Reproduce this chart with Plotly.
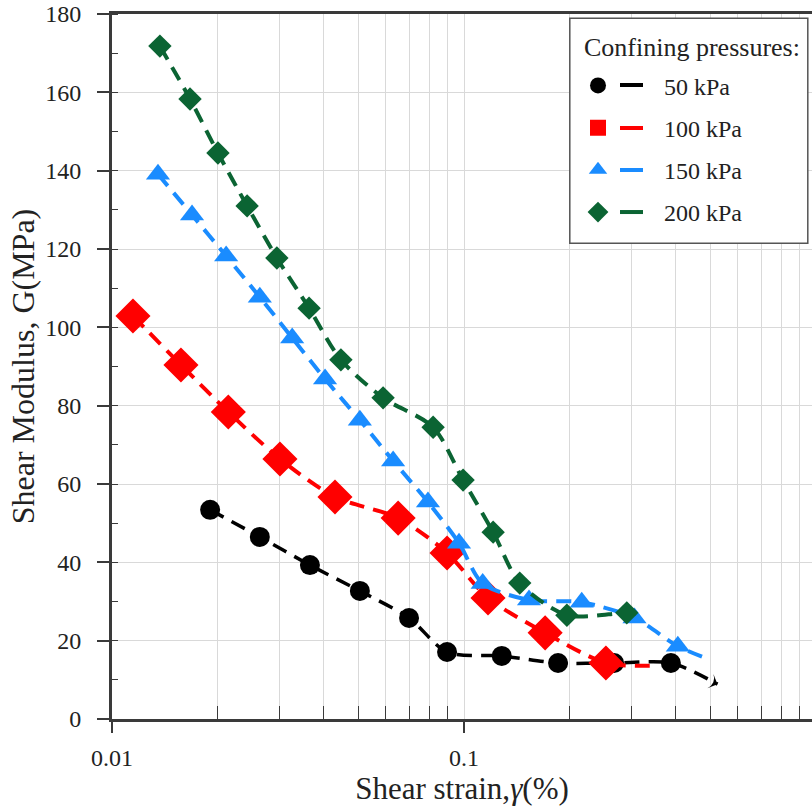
import plotly.graph_objects as go

# ---- data ----
strain_50 = [0.0190, 0.0263, 0.0365, 0.0506, 0.0698, 0.0895, 0.128, 0.185, 0.267, 0.387, 0.525]
G_50 = [53.4, 46.5, 39.3, 32.7, 25.8, 17.1, 16.1, 14.3, 14.3, 14.3, 8.9]

strain_100 = [0.01147, 0.0157, 0.0214, 0.0300, 0.0430, 0.0650, 0.0895, 0.117, 0.170, 0.253, 0.337]
G_100 = [102.9, 90.4, 78.4, 66.4, 56.7, 51.3, 42.4, 30.9, 22.0, 14.3, 13.6]

strain_150 = [0.01351, 0.01688, 0.0211, 0.0263, 0.0325, 0.0403, 0.0506, 0.0629, 0.0790, 0.0968,
              0.113, 0.153, 0.216, 0.305, 0.405, 0.500]
G_150 = [139.1, 128.7, 118.2, 107.7, 97.3, 86.8, 76.3, 65.9, 55.4, 44.9,
         34.6, 30.4, 29.8, 25.8, 18.6, 15.1]

strain_200 = [0.01368, 0.01666, 0.0200, 0.0242, 0.0294, 0.0363, 0.0447, 0.0589, 0.0817, 0.0994,
              0.121, 0.144, 0.196, 0.290, 0.320]
G_200 = [171.8, 158.3, 144.5, 131.0, 117.7, 104.9, 91.7, 82.0, 74.5, 61.0,
         47.7, 34.7, 26.5, 27.1, 26.6]

series_names = ["50 kPa", "100 kPa", "150 kPa", "200 kPa"]
legend_title = "Confining pressures:"
x_title = "Shear strain,<i>γ</i>(%)"
y_title = "Shear Modulus, G(MPa)"
x_tickvals = [0.01, 0.1, 1]
x_ticktext = ["0.01", "0.1", "1"]
x_minor = [0.02, 0.03, 0.04, 0.05, 0.06, 0.07, 0.08, 0.09,
           0.2, 0.3, 0.4, 0.5, 0.6, 0.7, 0.8, 0.9]

FONT = "Liberation Serif, Times New Roman, serif"
TXT = "#222222"
AX = "#3a3a3a"
colors = ["#000000", "#ff0000", "#1a8cff", "#0b6433"]
plot_symbols = ["circle", "diamond", "triangle-up", "diamond"]
legend_symbols = ["circle", "square", "triangle-up", "diamond"]
msizes = [20, 27, 21, 18]
end_sizes = [11, 0, 0, 0]
end_symbols = ["arrow-wide", "diamond", "triangle-up", "diamond"]
end_angles = [113, 0, 0, 0]
lwidths = [3.5, 4, 4, 4]

fig = go.Figure()
xs = [strain_50, strain_100, strain_150, strain_200]
ys = [G_50, G_100, G_150, G_200]
for i in range(4):
    n = len(xs[i])
    sizes = [msizes[i]] * (n - 1) + [end_sizes[i]]
    symbols = [plot_symbols[i]] * (n - 1) + [end_symbols[i]]
    angles = [0] * (n - 1) + [end_angles[i]]
    fig.add_trace(go.Scatter(
        x=xs[i], y=ys[i], mode="lines+markers", showlegend=False,
        line=dict(color=colors[i], width=lwidths[i], dash="15px,9px", shape="spline", smoothing=0.8),
        marker=dict(symbol=symbols, size=sizes, angle=angles, color=colors[i],
                    opacity=1, line=dict(width=0)),
    ))

# legend-only entries (marker part of the key)
for i in range(4):
    fig.add_trace(go.Scatter(
        x=[None], y=[None], mode="markers", name=series_names[i],
        legendgroup=series_names[i],
        marker=dict(symbol=legend_symbols[i], size=21, color=colors[i], opacity=1),
    ))

axis_common = dict(
    showline=True, linecolor=AX, linewidth=3,
    gridcolor="#d9d9d9", gridwidth=1, zeroline=False, automargin=False,
    tickfont=dict(family=FONT, size=24, color=TXT),
    ticklabeloverflow="allow",
)

fig.update_xaxes(
    type="log", range=[-2, -0.0114], **axis_common,
    tickvals=x_tickvals, ticktext=x_ticktext,
    ticks="outside", ticklen=11, tickcolor=AX, tickwidth=1.5,
    ticklabelstandoff=4,
    mirror=True,
    minor=dict(tickvals=x_minor, ticks="inside", ticklen=13, tickcolor=AX, tickwidth=1,
               showgrid=True, gridcolor="#d9d9d9", gridwidth=1),
    title=dict(text=x_title, font=dict(family=FONT, size=31, color=TXT), standoff=0),
)
fig.update_yaxes(
    range=[0, 180], dtick=20, **axis_common,
    ticks="outside", ticklen=12, tickcolor=AX, tickwidth=1.5,
    ticklabelstandoff=11,
    minor=dict(dtick=10, ticks="inside", ticklen=6, tickcolor=AX, tickwidth=1, showgrid=False),
    title=dict(text=y_title, font=dict(family=FONT, size=32, color=TXT), standoff=2),
)

# ---- legend box, title and dash keys (paper coordinates) ----
box_x0, box_x1, box_y0, box_y1 = 0.654, 0.994, 0.675, 0.994
key_x0, key_x1 = 0.7257, 0.7586
key_rows = [0.8993, 0.8383, 0.7787, 0.7191]

fig.add_shape(type="rect", xref="paper", yref="paper",
              x0=box_x0, x1=box_x1, y0=box_y0, y1=box_y1,
              fillcolor="white", line=dict(color="#555555", width=1.5), layer="above")
for i in range(4):
    fig.add_shape(type="line", xref="paper", yref="paper",
                  x0=key_x0, x1=key_x1, y0=key_rows[i], y1=key_rows[i],
                  line=dict(color=colors[i], width=4), layer="above")
fig.add_annotation(text=legend_title, xref="paper", yref="paper",
                   x=0.671, y=0.953, xanchor="left", yanchor="middle", showarrow=False,
                   font=dict(family=FONT, size=26, color=TXT))

fig.update_layout(
    width=812, height=809,
    margin=dict(l=112, r=0, t=14, b=90),
    plot_bgcolor="white", paper_bgcolor="white",
    font=dict(family=FONT, color=TXT),
    legend=dict(
        font=dict(family=FONT, size=24, color=TXT),
        x=0.6, y=0.93, xanchor="left", yanchor="top",
        bgcolor="rgba(0,0,0,0)", borderwidth=0,
        tracegroupgap=8, itemwidth=122,
    ),
)

fig.write_html("out.html", config={"displayModeBar": False},
               post_script="document.body.style.margin='0';")
